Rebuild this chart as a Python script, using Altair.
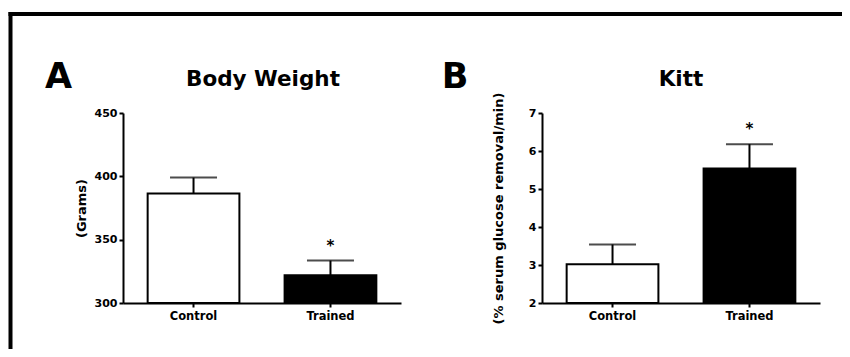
import altair as alt
import pandas as pd

# ---- data ----
categories = ["Control", "Trained"]
body_weight_mean = [386.5, 322.0]
body_weight_sem = [12.5, 11.5]
kitt_mean = [3.02, 5.54]
kitt_sem = [0.52, 0.64]
significance = ["", "*"]

weight_ticks = [300, 350, 400, 450]
kitt_ticks = [2, 3, 4, 5, 6, 7]

panel_letters = ["A", "B"]
panel_titles = ["Body Weight", "Kitt"]
y_titles = ["(Grams)", "(% serum glucose removal/min)"]

FONT = "DejaVu Sans"
W, H = 834, 341


def make_df(means, sems):
    return pd.DataFrame({
        "cat": categories,
        "mean": means,
        "hi": [m + s for m, s in zip(means, sems)],
        "star": significance,
    })


def axis_style(**kw):
    return alt.Axis(
        grid=False,
        domainColor="black", domainWidth=2,
        tickColor="black", tickWidth=2, tickSize=4,
        labelFont=FONT, labelFontWeight="bold", labelColor="black",
        titleFont=FONT, titleFontWeight="bold", titleColor="black",
        **kw,
    )


def panel(df, domain, ticks, ytitle, xrange, yoffset, title_pad):
    xs = alt.Scale(domain=categories, range=xrange, paddingInner=0.33, paddingOuter=0.18)
    ys = alt.Scale(domain=domain, range=[295, 105], nice=False, zero=False)
    xaxis = axis_style(orient="bottom", offset=-46, title=None, labelAngle=0,
                       labelFontSize=11.5, labelPadding=3)
    yaxis = axis_style(orient="left", offset=yoffset, values=ticks, title=ytitle,
                       labelFontSize=11, labelPadding=2, titleFontSize=13,
                       titlePadding=title_pad)
    X = alt.X("cat:N", scale=xs, axis=xaxis, sort=categories)
    base = alt.Chart(df)
    bars = base.mark_bar(stroke="black", strokeWidth=2).encode(
        x=X,
        y=alt.Y("mean:Q", scale=ys, axis=yaxis),
        y2=alt.datum(domain[0]),
        fill=alt.Fill("cat:N", scale=alt.Scale(domain=categories, range=["white", "black"]),
                      legend=None),
    )
    err = base.mark_rule(color="black", strokeWidth=2).encode(
        x=X, y=alt.Y("mean:Q", scale=ys, axis=yaxis), y2="hi:Q")
    cap = base.mark_tick(color="black", orient="horizontal", size=47, thickness=2).encode(
        x=X, y=alt.Y("hi:Q", scale=ys, axis=yaxis))
    star = base.mark_text(font=FONT, fontSize=15, fontWeight="bold", color="black",
                          baseline="alphabetic", dy=-10).encode(
        x=X, y=alt.Y("hi:Q", scale=ys, axis=yaxis), text="star:N")
    return alt.layer(bars, err, cap, star)


panel_a = panel(make_df(body_weight_mean, body_weight_sem), [300, 450], weight_ticks,
                y_titles[0], [115, 393], -115, 6)
panel_b = panel(make_df(kitt_mean, kitt_sem), [2, 7], kitt_ticks,
                y_titles[1], [534, 812], -534, 23)

one = pd.DataFrame({"k": [0]})
border_top = alt.Chart(one).mark_rule(color="black", strokeWidth=4).encode(
    x=alt.value(0.5), x2=alt.value(W), y=alt.value(6))
border_left = alt.Chart(one).mark_rule(color="black", strokeWidth=4).encode(
    x=alt.value(2.5), y=alt.value(4), y2=alt.value(H))


def label(text, x, y, size):
    return alt.Chart(pd.DataFrame({"t": [text]})).mark_text(
        font=FONT, fontSize=size, fontWeight="bold", color="black",
        align="center", baseline="alphabetic").encode(
        x=alt.value(x), y=alt.value(y), text="t:N")


texts = [
    label(panel_letters[0], 50.5, 80, 35),
    label(panel_titles[0], 255, 78, 21.5),
    label(panel_letters[1], 447, 80, 35),
    label(panel_titles[1], 673, 78, 21.5),
]

chart = alt.layer(border_top, border_left, *texts, panel_a, panel_b).resolve_scale(
    x="independent", y="independent", fill="independent"
).properties(
    width=W, height=H, padding=0,
    autosize=alt.AutoSizeParams(type="none"),
    background="white",
).configure_view(stroke=None)

chart.save("out.html", embed_options={"renderer": "svg", "actions": False})
